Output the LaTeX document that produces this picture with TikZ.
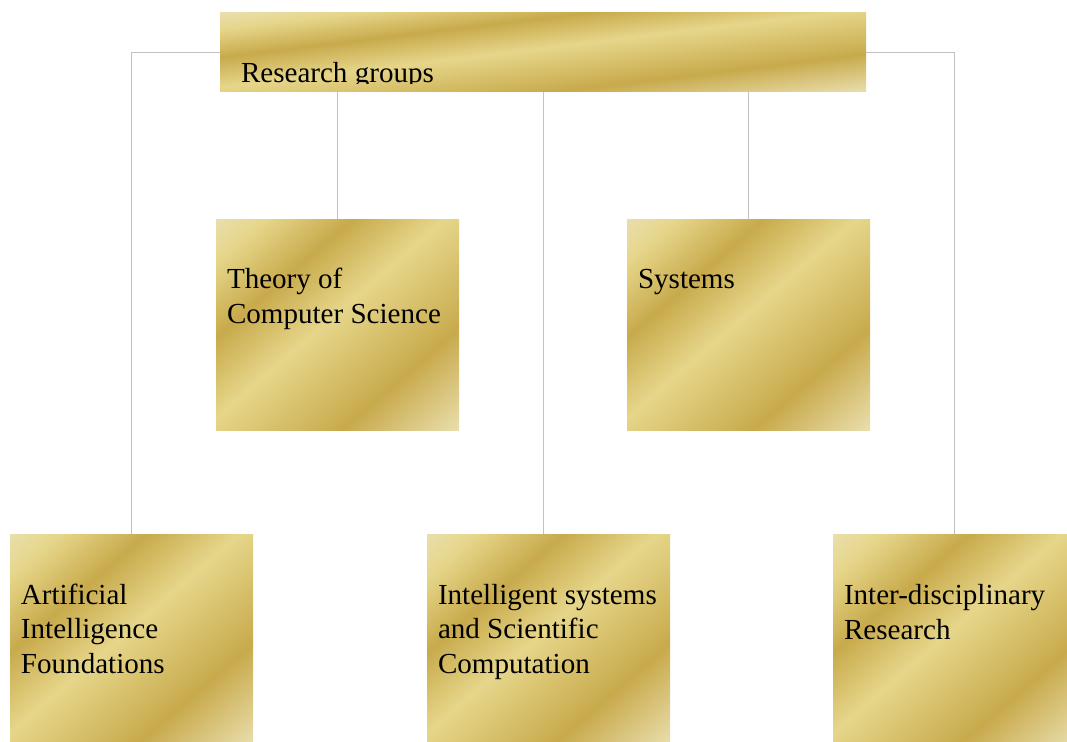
\documentclass[tikz,border=0pt]{standalone}
\usepackage{fontspec}
\setmainfont{Liberation Serif}
\usetikzlibrary{backgrounds}
\definecolor{goldpale}{HTML}{E9DEAC}
\definecolor{goldlight}{HTML}{E6D68A}
\definecolor{golddark}{HTML}{C8AA4C}
\pgfdeclarehorizontalshading{gold}{100bp}{color(0bp)=(goldpale); color(14.6bp)=(goldpale);
  color(21.7bp)=(goldlight); color(34.4bp)=(golddark); color(47.9bp)=(goldlight);
  color(68.4bp)=(golddark); color(85.4bp)=(goldpale); color(100bp)=(goldpale)}

\begin{document}
\begin{tikzpicture}[x=0.75pt,y=-0.75pt,
    box/.style 2 args={inner sep=0,minimum width=#1pt,minimum height=#2pt},
    txt/.style={anchor=base west,align=left,inner sep=0,
      font=\fontsize{21.8pt}{25.7pt}\selectfont},
    link/.style={draw=black!24,line width=0.75pt}]
  \useasboundingbox (0,0) rectangle (1067,742);
  \clip (0,0) rectangle (1067,742);
  \node[box={484.5}{59.25}] (RG) at (543,52.5) {};
  \node[box={182.25}{158.25}] (TC) at (337.5,324.5) {};
  \node[box={182.25}{158.25}] (SY) at (748.5,324.5) {};
  \node[box={182.25}{158.25}] (AI) at (131.5,639.5) {};
  \node[box={182.25}{158.25}] (IS) at (548.5,639.5) {};
  \node[box={182.25}{158.25}] (ID) at (954.5,639.5) {};
  \begin{scope}
    \clip (RG.north west) rectangle ([yshift=6.4pt]RG.south east);
    \node[txt] (RGt) at ([shift={(21,70)}]RG.north west) {Research groups};
  \end{scope}
  \node[txt] (TCt) at ([shift={(11,104.3)}]TC.north west) {Theory of\\Computer Science};
  \node[txt] (SYt) at ([shift={(11,70)}]SY.north west) {Systems};
  \node[txt] (AIt) at ([shift={(11,139.5)}]AI.north west) {Artificial\\Intelligence\\Foundations};
  \node[txt] (ISt) at ([shift={(11,139.5)}]IS.north west) {Intelligent systems\\and Scientific\\Computation};
  \node[txt] (IDt) at ([shift={(11,105.3)}]ID.north west) {Inter-disciplinary\\Research};
  \begin{scope}[on background layer]
    \draw[link] (AI.north) |- (RG.center) -| (ID.north);
    \draw[link] (RG.south -| TC.north) -- (TC.north);
    \draw[link] (RG.south -| SY.north) -- (SY.north);
    \draw[link] (RG.south) -- (RG.south |- IS.north);
    \foreach \n/\w/\h in {RG/484.5/59.25,TC/182.25/158.25,SY/182.25/158.25,
        AI/182.25/158.25,IS/182.25/158.25,ID/182.25/158.25}{
      \begin{scope}[transform canvas={shift={(\n.center)},xscale=\w/100,yscale=\h/100}]
        \shade[shading=gold,shading angle=-45] (-50pt,-50pt) rectangle (50pt,50pt);
      \end{scope}
    }
  \end{scope}
\end{tikzpicture}
\end{document}
